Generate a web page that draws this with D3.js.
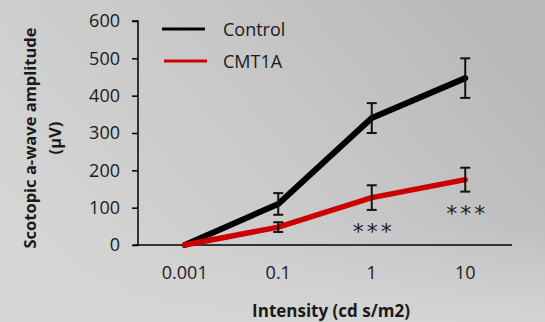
<!DOCTYPE html>
<html>
<head>
<meta charset="utf-8">
<script src="https://cdn.jsdelivr.net/npm/d3@7"></script>
<style>
  html, body { margin: 0; padding: 0; }
  body { width: 545px; height: 322px; overflow: hidden; }
  svg { display: block; font-family: "Open Sans", sans-serif; }
</style>
</head>
<body>
<svg id="chart" width="545" height="322"></svg>
<script>
// intensities (categories) and series
const intensities = ['0.001', '0.1', '1', '10'];
const controlMean = [0, 110, 340, 447];
const controlErr  = [0, 29, 40, 53];
const cmtMean     = [0, 48, 127, 175];
const cmtErr      = [0, 13, 33, 32];
const stars       = ['', '', '***', '***'];
const yTicks      = [0, 100, 200, 300, 400, 500, 600];

const series = [
  { name: 'Control', color: '#000000', width: 6, mean: controlMean, err: controlErr },
  { name: 'CMT1A',   color: '#cc0000', width: 5.5, mean: cmtMean,   err: cmtErr },
];

const svg = d3.select('#chart');

// grey background, darker toward upper right
const defs = svg.append('defs');
const grad = defs.append('linearGradient').attr('id', 'bg')
  .attr('x1', '0').attr('y1', '0.7').attr('x2', '1').attr('y2', '0.2');
grad.append('stop').attr('offset', '0%').attr('stop-color', '#d6d6d6');
grad.append('stop').attr('offset', '50%').attr('stop-color', '#c9c9c9');
grad.append('stop').attr('offset', '100%').attr('stop-color', '#b8b8b8');
const grad2 = defs.append('linearGradient').attr('id', 'bg2')
  .attr('x1', '0').attr('y1', '0').attr('x2', '0').attr('y2', '1');
grad2.append('stop').attr('offset', '0%').attr('stop-color', '#d4d4d4').attr('stop-opacity', 0);
grad2.append('stop').attr('offset', '70%').attr('stop-color', '#d4d4d4').attr('stop-opacity', 0);
grad2.append('stop').attr('offset', '100%').attr('stop-color', '#d6d6d6').attr('stop-opacity', 0.9);
svg.append('rect').attr('width', 545).attr('height', 322).attr('fill', 'url(#bg)');
svg.append('rect').attr('width', 545).attr('height', 322).attr('fill', 'url(#bg2)');

const x = d3.scaleBand().domain(intensities).range([138, 512]);
const y = d3.scaleLinear().domain([0, 600]).range([245, 21]);
const cx = d => x(d) + x.bandwidth() / 2;

// y axis
const yAxis = svg.append('g').attr('transform', 'translate(138,0)')
  .call(d3.axisLeft(y).tickValues(yTicks).tickSize(6).tickPadding(12));
yAxis.select('.domain').attr('stroke', '#000').attr('stroke-width', 1.5).attr('d', `M-6,${y(600)}H0V${y(0)}`);
yAxis.selectAll('line').attr('stroke', '#000').attr('stroke-width', 1.5);
yAxis.selectAll('text').attr('font-size', 18).attr('fill', '#1a1a1a').attr('font-family', '"Open Sans", sans-serif');

// x axis
const xAxis = svg.append('g').attr('transform', `translate(0,${y(0)})`)
  .call(d3.axisBottom(x).tickSize(0).tickPadding(21));
xAxis.select('.domain').attr('stroke', '#000').attr('stroke-width', 1.5).attr('d', `M133,0H512`);
xAxis.selectAll('text').attr('font-size', 18).attr('fill', '#1a1a1a').attr('font-family', '"Open Sans", sans-serif');

// lines
const line = d3.line().x((d, i) => cx(intensities[i])).y(d => y(d));
series.forEach(s => {
  svg.append('path').datum(s.mean)
    .attr('d', line).attr('fill', 'none')
    .attr('stroke', s.color).attr('stroke-width', s.width)
    .attr('stroke-linecap', 'round').attr('stroke-linejoin', 'round');
});

// error bars
series.forEach(s => {
  const g = svg.append('g').attr('stroke', '#111').attr('stroke-width', 2);
  s.mean.forEach((m, i) => {
    if (!s.err[i]) return;
    const px = cx(intensities[i]);
    const hi = y(m + s.err[i]), lo = y(m - s.err[i]);
    g.append('line').attr('x1', px).attr('x2', px).attr('y1', hi).attr('y2', lo);
    g.append('line').attr('x1', px - 5).attr('x2', px + 5).attr('y1', hi).attr('y2', hi);
    g.append('line').attr('x1', px - 5).attr('x2', px + 5).attr('y1', lo).attr('y2', lo);
  });
});

// significance stars under CMT1A
stars.forEach((st, i) => {
  if (!st) return;
  svg.append('text')
    .attr('x', cx(intensities[i]) + 2)
    .attr('y', y(cmtMean[i] - cmtErr[i]) + 29)
    .attr('text-anchor', 'middle')
    .attr('font-size', 22).attr('letter-spacing', 3)
    .attr('font-family', 'DejaVu Sans, sans-serif')
    .attr('fill', '#1a1a1a')
    .text(st);
});

// legend
const legend = svg.append('g');
series.forEach((s, i) => {
  const ly = 29 + i * 32;
  legend.append('line').attr('x1', 162 + i * 2).attr('x2', 205 + i * 2).attr('y1', ly).attr('y2', ly)
    .attr('stroke', s.color).attr('stroke-width', 3);
  legend.append('text').attr('x', 223).attr('y', ly + 7)
    .attr('font-size', 18).attr('fill', '#1a1a1a').text(s.name);
});

// axis titles
svg.append('text').attr('x', 331).attr('y', 317).attr('text-anchor', 'middle')
  .attr('font-size', 17).attr('font-weight', 'bold').attr('fill', '#1a1a1a')
  .text('Intensity (cd s/m2)');
const yt = svg.append('text').attr('transform', 'translate(0,138) rotate(-90)')
  .attr('text-anchor', 'middle').attr('font-size', 16.5).attr('font-weight', 'bold').attr('fill', '#1a1a1a');
yt.append('tspan').attr('x', 0).attr('y', 36).text('Scotopic a-wave amplitude');
yt.append('tspan').attr('x', 0).attr('y', 61).text('(\u00b5V)');
</script>
</body>
</html>
